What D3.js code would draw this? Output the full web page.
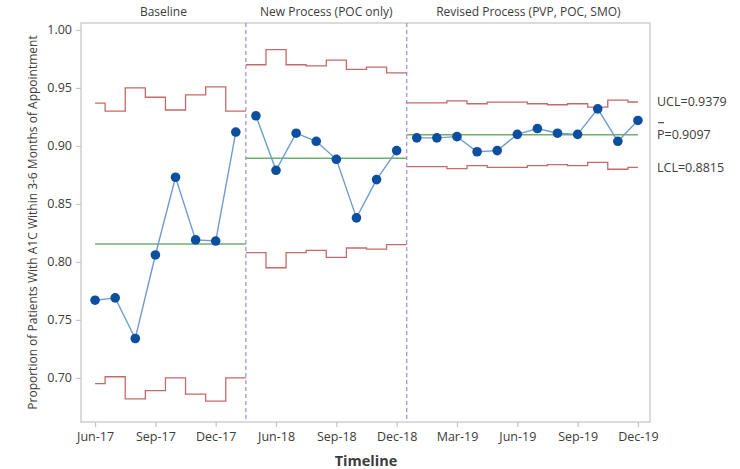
<!DOCTYPE html>
<html><head><meta charset="utf-8">
<script src="https://cdn.jsdelivr.net/npm/d3@7"></script>
<style>body{margin:0;background:#fff} text{font-family:"Open Sans",sans-serif}</style>
</head><body><svg id="c" width="740" height="469"></svg>
<script>
const months = ["Jun-17","Jul-17","Aug-17","Sep-17","Oct-17","Nov-17","Dec-17","Jan-18",
  "May-18","Jun-18","Jul-18","Aug-18","Sep-18","Oct-18","Nov-18","Dec-18",
  "Jan-19","Feb-19","Mar-19","Apr-19","May-19","Jun-19","Jul-19","Aug-19","Sep-19","Oct-19","Nov-19","Dec-19"];
const phaseNames = ["Baseline","New Process (POC only)","Revised Process (PVP, POC, SMO)"];
const phaseOf = [0,0,0,0,0,0,0,0, 1,1,1,1,1,1,1,1, 2,2,2,2,2,2,2,2,2,2,2,2];
const proportion = [0.767,0.769,0.734,0.806,0.873,0.819,0.818,0.912,
  0.926,0.879,0.911,0.904,0.8885,0.838,0.871,0.896,
  0.907,0.907,0.908,0.895,0.896,0.910,0.915,0.911,0.910,0.932,0.904,0.922];
const centerLine = [0.8155,0.8894,0.9097];
const ucl = [0.937,0.930,0.950,0.942,0.931,0.944,0.951,0.930,
  0.970,0.983,0.970,0.969,0.974,0.966,0.968,0.963,
  0.9372,0.9372,0.9389,0.9364,0.9378,0.9378,0.9364,0.9355,0.9364,0.9335,0.9395,0.9379];
const lcl = [0.695,0.701,0.682,0.689,0.700,0.686,0.680,0.700,
  0.808,0.795,0.808,0.810,0.804,0.812,0.811,0.815,
  0.8822,0.8822,0.8805,0.8830,0.8816,0.8816,0.8830,0.8839,0.8830,0.8859,0.8799,0.8815];
const tickLabels = ["Jun-17","Sep-17","Dec-17","Jun-18","Sep-18","Dec-18","Mar-19","Jun-19","Sep-19","Dec-19"];
const yTicks = [0.70,0.75,0.80,0.85,0.90,0.95,1.00];
const limitLabels = ["UCL=0.9379","P=0.9097","LCL=0.8815"];
const yTitle = "Proportion of Patients With A1C Within 3-6 Months of Appointment";
const xTitle = "Timeline";

const svg = d3.select("#c");
const L = 81, R = 650, T = 23, B = 422;
const n = months.length;
const x = d3.scaleLinear().domain([-0.7, n - 1 + 0.6]).range([L, R]);
const y = d3.scaleLinear().domain([0.662, 1.006]).range([B, T]);
const textCol = "#3c3c3c", frameCol = "#c4c4c4";

// frame
svg.append("rect").attr("x", L).attr("y", T).attr("width", R - L).attr("height", B - T)
  .attr("fill", "none").attr("stroke", frameCol).attr("stroke-width", 1.2);

// axes
const yAxis = svg.append("g").attr("transform", `translate(${L},0)`)
  .call(d3.axisLeft(y).tickValues(yTicks).tickFormat(d3.format(".2f")).tickSize(5).tickPadding(4));
const tickIdx = tickLabels.map(t => months.indexOf(t));
const xAxis = svg.append("g").attr("transform", `translate(0,${B})`)
  .call(d3.axisBottom(x).tickValues(tickIdx).tickFormat(i => months[i]).tickSize(5).tickPadding(5));
[yAxis, xAxis].forEach(g => {
  g.select(".domain").remove();
  g.selectAll("line").attr("stroke", frameCol).attr("stroke-width", 1.2);
  g.selectAll("text").attr("fill", textCol).style("font-size", "12.5px").style("font-family", "'Open Sans',sans-serif");
});

// phases
const phases = phaseNames.map((name, p) => {
  const idx = d3.range(n).filter(i => phaseOf[i] === p);
  return {name, p, idx, start: idx[0], end: idx[idx.length - 1]};
});
const lo = i => Math.max(i - 0.5, 0), hi = i => Math.min(i + 0.5, n - 1);

// separators
phases.slice(1).forEach(ph => {
  svg.append("line").attr("x1", x(ph.start - 0.5)).attr("x2", x(ph.start - 0.5))
    .attr("y1", T).attr("y2", B).attr("stroke", "#9a8fd8").attr("stroke-width", 1.2)
    .attr("stroke-dasharray", "4,3");
});
// phase titles
phases.forEach(ph => {
  const a = ph.p === 0 ? L : x(ph.start - 0.5);
  const b = ph.p === phases.length - 1 ? R : x(ph.end + 0.5);
  svg.append("text").attr("x", (a + b) / 2).attr("y", 16).attr("text-anchor", "middle")
    .attr("fill", textCol).style("font-size", "12px").text(ph.name);
});

const line = d3.line().x(d => x(d[0])).y(d => y(d[1]));
phases.forEach(ph => {
  const stepPts = arr => ph.idx.flatMap(i => [[lo(i), arr[i]], [hi(i), arr[i]]]);
  svg.append("path").attr("d", line(stepPts(ucl))).attr("fill", "none").attr("stroke", "#c46a68").attr("stroke-width", 1.3);
  svg.append("path").attr("d", line(stepPts(lcl))).attr("fill", "none").attr("stroke", "#c46a68").attr("stroke-width", 1.3);
  svg.append("path").attr("d", line([[lo(ph.start), centerLine[ph.p]], [hi(ph.end), centerLine[ph.p]]]))
    .attr("fill", "none").attr("stroke", "#6fae6f").attr("stroke-width", 1.6);
  svg.append("path").attr("d", line(ph.idx.map(i => [i, proportion[i]])))
    .attr("fill", "none").attr("stroke", "#6f9cd0").attr("stroke-width", 1.4);
  svg.append("g").selectAll("circle").data(ph.idx).join("circle")
    .attr("cx", i => x(i)).attr("cy", i => y(proportion[i])).attr("r", 4.8)
    .attr("fill", "#0c4f9e");
});

// limit labels
const last = n - 1;
const lx = 657;
svg.append("text").attr("x", lx).attr("y", y(ucl[last])).attr("dy", "0.35em")
  .attr("fill", textCol).style("font-size", "12.5px").text(limitLabels[0]);
svg.append("text").attr("x", lx).attr("y", y(centerLine[2])).attr("dy", "0.35em")
  .attr("fill", textCol).style("font-size", "12.5px").text(limitLabels[1]);
svg.append("line").attr("x1", lx + 1).attr("x2", lx + 7).attr("y1", y(centerLine[2]) - 12).attr("y2", y(centerLine[2]) - 12)
  .attr("stroke", textCol).attr("stroke-width", 1.1);
svg.append("text").attr("x", lx).attr("y", y(lcl[last])).attr("dy", "0.35em")
  .attr("fill", textCol).style("font-size", "12.5px").text(limitLabels[2]);

// titles
svg.append("text").attr("transform", `translate(37,${(T + B) / 2}) rotate(-90)`)
  .attr("text-anchor", "middle").attr("fill", textCol).style("font-size", "12px").text(yTitle);
svg.append("text").attr("x", 366).attr("y", 466).attr("text-anchor", "middle")
  .attr("fill", textCol).style("font-size", "14.5px").style("font-weight", "bold").text(xTitle);
</script></body></html>
